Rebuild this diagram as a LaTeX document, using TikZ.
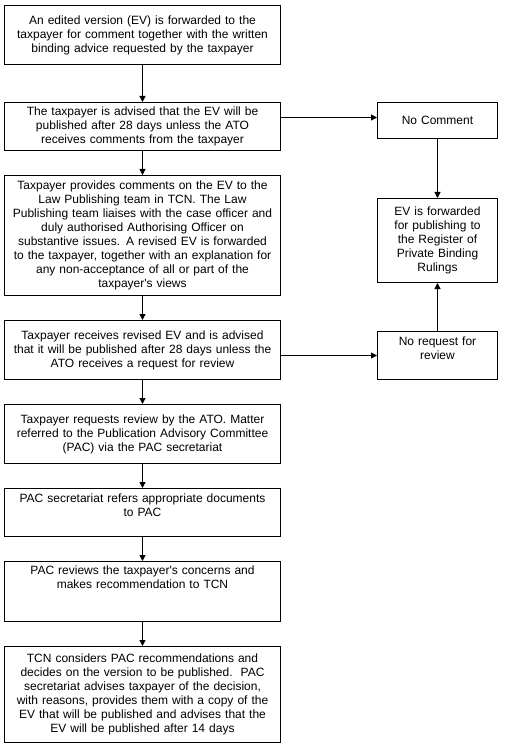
\documentclass[tikz,border=0pt]{standalone}
\usepackage{fontspec}
\setmainfont{Liberation Sans}
\usepackage{tikz}
\usetikzlibrary{arrows.meta, positioning, calc}

\begin{document}
\begin{tikzpicture}[
    node distance=18pt and 72pt,
    stepbox/.style={rectangle, draw=black, line width=0.75pt, text width=199pt, inner xsep=4pt, inner ysep=3pt, align=center, font=\fontsize{9}{10.5}\selectfont},
    sidebox/.style={rectangle, draw=black, line width=0.75pt, text width=82pt, inner xsep=4pt, inner ysep=3pt, align=center, font=\fontsize{9}{10.5}\selectfont},
    arrow/.style={-{Triangle[length=4.5pt, width=4.5pt]}, line width=0.75pt, draw=black}
]
    \node (edited) [stepbox, minimum height=44.25pt] {An edited version (EV) is forwarded to the\\taxpayer for comment together with the written\\binding advice requested by the taxpayer};
    \node (advised) [stepbox, below=27.75pt of edited, minimum height=36pt] {The taxpayer is advised that the EV will be\\published after 28 days unless the ATO\\receives comments from the taxpayer};
    \node (comments) [stepbox, below=of advised, minimum height=90pt] {Taxpayer provides comments on the EV to the\\Law Publishing team in TCN. The Law\\Publishing team liaises with the case officer and\\duly authorised Authorising Officer on\\substantive issues. A revised EV is forwarded\\to the taxpayer, together with an explanation for\\any non-acceptance of all or part of the\\taxpayer\textquotesingle s views};
    \node (revised) [stepbox, below=of comments, minimum height=44.25pt] {Taxpayer receives revised EV and is advised\\that it will be published after 28 days unless the\\ATO receives a request for review};
    \node (request) [stepbox, below=of revised, minimum height=44.25pt] {Taxpayer requests review by the ATO. Matter\\referred to the Publication Advisory Committee\\(PAC) via the PAC secretariat};
    \node (refers) [stepbox, below=of request, minimum height=36pt] {PAC secretariat refers appropriate documents\\to PAC\\~};
    \node (reviews) [stepbox, below=of refers, minimum height=45pt] {PAC reviews the taxpayer\textquotesingle s concerns and\\makes recommendation to TCN\\~\\~};
    \node (decides) [stepbox, below=of reviews, minimum height=72pt] {TCN considers PAC recommendations and\\decides on the version to be published.\ \ PAC\\secretariat advises taxpayer of the decision,\\with reasons, provides them with a copy of the\\EV that will be published and advises that the\\EV will be published after 14 days};

    \node (nocomment) [sidebox, right=of advised.north east, anchor=north west, minimum height=27pt] {No Comment};
    \node (norequest) [sidebox, right=of revised.south east, anchor=south west, minimum height=36pt] {No request for\\review\\~};
    \node (register) [sidebox, above=36pt of norequest, minimum height=63pt] {EV is forwarded\\for publishing to\\the Register of\\Private Binding\\Rulings};

    \draw [arrow] (edited) -- (advised);
    \draw [arrow] (advised) -- (comments);
    \draw [arrow] (comments) -- (revised);
    \draw [arrow] (revised) -- (request);
    \draw [arrow] (request) -- (refers);
    \draw [arrow] (refers) -- (reviews);
    \draw [arrow] (reviews) -- (decides);
    \draw [arrow] ([yshift=2.25pt]advised.east |- nocomment.west) -- ([yshift=2.25pt]nocomment.west);
    \draw [arrow] (revised.east |- norequest.west) -- (norequest.west);
    \draw [arrow] (nocomment) -- (register);
    \draw [arrow] (norequest) -- (register);

    \useasboundingbox ($(edited.north west)+(-3pt,3.75pt)$) rectangle ++(381.75pt,-558.75pt);
\end{tikzpicture}
\end{document}
